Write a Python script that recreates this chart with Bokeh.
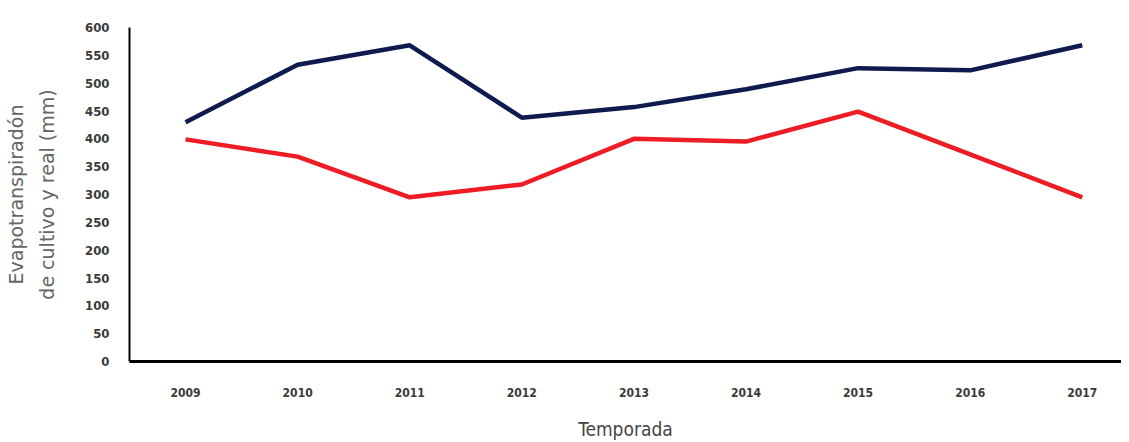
from bokeh.plotting import figure
from bokeh.models import Range1d, FixedTicker
from bokeh.embed import file_html
from bokeh.resources import INLINE

years = [2009, 2010, 2011, 2012, 2013, 2014, 2015, 2016, 2017]
etc_cultivo = [430, 533, 568, 438, 457, 489, 527, 523, 568]
et_real = [399, 368, 295, 318, 400, 395, 449, 372, 295]
y_ticks = [0, 50, 100, 150, 200, 250, 300, 350, 400, 450, 500, 550, 600]

p = figure(width=1121, height=442, output_backend="svg", toolbar_location=None,
           x_range=Range1d(2008.5, 2017.35), y_range=Range1d(0, 600),
           min_border_left=129, min_border_right=0, min_border_top=27, min_border_bottom=81)

p.line(years, etc_cultivo, line_color="#0f1a4e", line_width=4.5)
p.line(years, et_real, line_color="#ee1c24", line_width=4.5)

p.grid.visible = False
p.outline_line_color = None

p.xaxis.ticker = FixedTicker(ticks=years)
p.yaxis.ticker = FixedTicker(ticks=y_ticks)

for ax in (p.xaxis, p.yaxis):
    ax.major_tick_line_color = None
    ax.minor_tick_line_color = None
    ax.axis_line_color = "black"
    ax.major_label_text_font = "DejaVu Sans Condensed"
    ax.major_label_text_font_style = "bold"
    ax.major_label_text_color = "#3a3a3a"
    ax.major_label_text_font_size = "12px"

p.yaxis.major_label_text_font_size = "13px"
p.xaxis.axis_line_width = 3
p.yaxis.axis_line_width = 2
p.xaxis.major_label_standoff = 20
p.yaxis.major_label_standoff = 14

p.xaxis.axis_label = "Temporada"
p.xaxis.axis_label_text_font = "DejaVu Sans Condensed"
p.xaxis.axis_label_text_font_style = "normal"
p.xaxis.axis_label_text_font_size = "19px"
p.xaxis.axis_label_text_color = "#444444"
p.xaxis.axis_label_standoff = 18

p.yaxis.axis_label = "Evapotranspiradón\nde cultivo y real (mm)"
p.yaxis.axis_label_text_font = "DejaVu Sans"
p.yaxis.axis_label_text_font_style = "normal"
p.yaxis.axis_label_text_font_size = "19px"
p.yaxis.axis_label_text_color = "#666666"
p.yaxis.axis_label_text_line_height = 1.4
p.yaxis.axis_label_standoff = 24

open("out.html", "w").write(file_html(p, INLINE))
